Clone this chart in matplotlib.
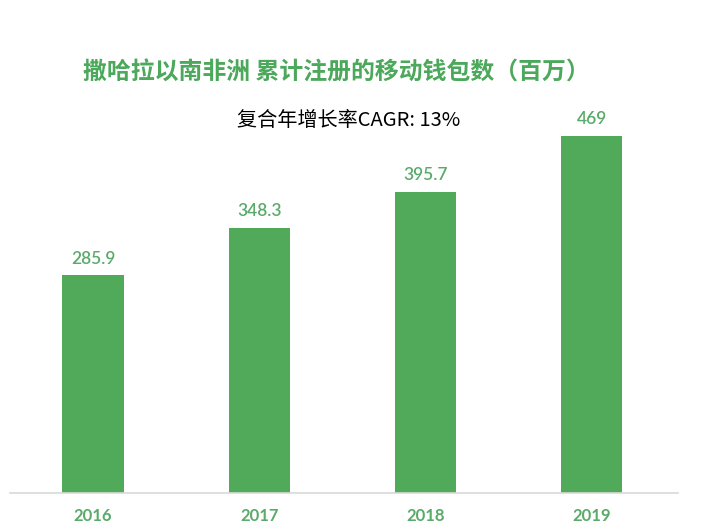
import matplotlib.pyplot as plt

plt.rcParams['font.family'] = ['Lato', 'Noto Sans CJK SC', 'DejaVu Sans']

# Data
years = ['2016', '2017', '2018', '2019']
wallets = [285.9, 348.3, 395.7, 469]
value_labels = ['285.9', '348.3', '395.7', '469']

bar_green = '#50AA5A'
text_green = '#5AAA6A'

fig = plt.figure(figsize=(7.2, 5.26), dpi=100)
ax = fig.add_axes([0.0139, 0.0627, 0.928, 0.7243])

x = range(len(years))
bars = ax.bar(x, wallets, width=0.37, color=bar_green)

for xi, v, lab in zip(x, wallets, value_labels):
    ax.annotate(lab, (xi, v), xytext=(0, 6), textcoords='offset points',
                ha='center', va='bottom', fontsize=12.5, color=text_green,
                fontweight='semibold')

ax.set_xlim(-0.5, 3.52)
ax.set_ylim(0, 500)
ax.set_xticks(list(x))
ax.set_xticklabels(years, fontsize=12, color=text_green, fontweight='bold')
ax.tick_params(axis='x', length=0, pad=11)
ax.set_yticks([])
for s in ['top', 'right', 'left']:
    ax.spines[s].set_visible(False)
ax.spines['bottom'].set_color('#D9D9D9')
ax.spines['bottom'].set_linewidth(1.2)

fig.text(0.467, 0.862, '撒哈拉以南非洲 累计注册的移动钱包数（百万）',
         ha='center', va='center', fontsize=17.2, fontweight='bold',
         color='#4CA85A', family=['Noto Sans CJK SC', 'DejaVu Sans'])
fig.text(0.484, 0.771, '复合年增长率CAGR: 13%', ha='center', va='center',
         fontsize=14.5, color='black', family=['Noto Sans CJK SC', 'DejaVu Sans'])

fig.savefig('out.png', dpi=100, facecolor='white')
